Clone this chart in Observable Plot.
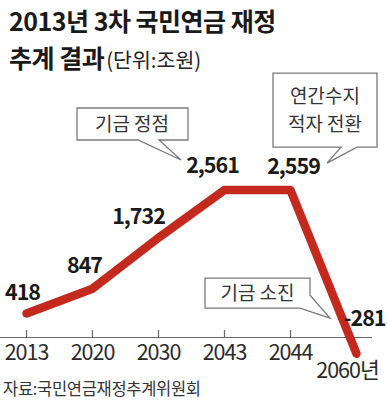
<!DOCTYPE html>
<html><head><meta charset="utf-8">
<script src="https://cdn.jsdelivr.net/npm/d3@7"></script>
<script src="https://cdn.jsdelivr.net/npm/@observablehq/plot@0.6"></script>
<style>
html,body{margin:0;padding:0;background:#fff;}
#wrap{position:relative;width:387px;height:402px;overflow:hidden;font-family:"Noto Sans CJK KR",sans-serif;}
#title{position:absolute;left:9px;top:2px;font-size:25px;font-weight:bold;line-height:36.5px;letter-spacing:-0.5px;color:#1a1a1a;white-space:nowrap;z-index:2;}
#title .unit{font-size:20.5px;font-weight:normal;letter-spacing:0;color:#222;margin-left:2px;}
#chart{position:absolute;left:0;top:72px;z-index:1;}
#source{position:absolute;left:3px;top:378px;font-size:16.5px;line-height:20px;letter-spacing:-0.3px;color:#333;white-space:nowrap;z-index:2;}
#chart svg text{letter-spacing:-1px;}
#chart svg .callout text{letter-spacing:0;}
</style></head>
<body><div id="wrap"><div id="title">2013년 3차 국민연금 재정<br>추계 결과<span class="unit">(단위:조원)</span></div><div id="chart"></div><div id="source">자료:국민연금재정추계위원회</div></div>
<script>
// ---- data ----
const years = ["2013", "2020", "2030", "2043", "2044", "2060"];
const values = [418, 847, 1732, 2561, 2559, -281];
const valueLabels = ["418", "847", "1,732", "2,561", "2,559", "-281"];
const tickYears = ["2013", "2020", "2030", "2043", "2044"];
const lastYearLabel = "2060년";
const calloutYears = ["2043", "2044", "2060"];
const calloutTexts = [["기금 정점"], ["연간수지", "적자 전환"], ["기금 소진"]];

const data = years.map((year, i) => ({year, value: values[i], label: valueLabels[i]}));

// ---- layout config (pixel offsets relative to anchor points) ----
const labelOffsets = [[-4, -20], [-8, -23], [-20, -21], [-12, -23.5], [3, -23.5], [8, -35]];
const calloutShapes = [
  {poly: [[-147,-81.5],[-36,-81.5],[-36,-49.5],[-65,-49.5],[-43,-29.5],[-86,-49.5],[-147,-49.5]], text: [-92, -65], gap: 0},
  {poly: [[-17,-116.5],[87,-116.5],[87,-42.5],[67,-42.5],[37,-26.5],[51,-42.5],[-17,-42.5]], text: [35, -79.5], gap: 28},
  {poly: [[-151,-75],[-46,-75],[-46,-58],[-26,-35],[-56,-45],[-151,-45]], text: [-98.5, -60], gap: 0}
];

const red = "#c3291c";
const plot = Plot.plot({
  width: 387,
  height: 325,
  marginLeft: 0,
  marginRight: 15,
  marginTop: 0,
  marginBottom: 0,
  style: {fontFamily: "'Noto Sans CJK KR', sans-serif", background: "transparent", overflow: "visible"},
  x: {type: "point", domain: years, range: [26, 356], padding: 0, axis: null},
  y: {domain: [0, d3.max(values)], range: [265, 117.5], axis: null},
  marks: [
    Plot.ruleY([0], {stroke: "#666", strokeWidth: 1.2}),
    Plot.vector(tickYears, {
      x: d => d, y: () => 0, length: 7, rotate: 0, anchor: "start",
      stroke: "#666", strokeWidth: 1.2,
      shape: {draw(ctx, l) { ctx.moveTo(0, 0); ctx.lineTo(0, -l); }}
    }),
    Plot.text(tickYears, {x: d => d, y: () => 0, text: d => d, dy: 16, fontSize: 21.5, fill: "#2a2a2a"}),
    Plot.text([data[data.length - 1]], {x: "year", y: "value", text: () => lastYearLabel, dx: -9, dy: 17, fontSize: 21.5, fill: "#2a2a2a"}),
    Plot.line(data, {x: "year", y: "value", stroke: red, strokeWidth: 8.5, strokeLinecap: "round", strokeLinejoin: "round"}),
    ...data.map((d, i) => Plot.text([d], {
      x: "year", y: "value", text: "label",
      dx: labelOffsets[i][0], dy: labelOffsets[i][1],
      fontSize: 21.5, fontWeight: "bold", fill: "#1a1a1a"
    }))
  ]
});
document.getElementById("chart").appendChild(plot);

// ---- callouts anchored to data points through the plot's scales ----
const sx = plot.scale("x"), sy = plot.scale("y");
const g = d3.select(plot).append("g").attr("class", "callout");
calloutYears.forEach((yr, k) => {
  const d = data.find(e => e.year === yr);
  const ax = sx.apply(d.year), ay = sy.apply(d.value);
  const shp = calloutShapes[k];
  g.append("path")
    .attr("d", "M" + shp.poly.map(p => [ax + p[0], ay + p[1]].join(",")).join("L") + "Z")
    .attr("fill", "#fff").attr("stroke", "#7a7a7a").attr("stroke-width", 1.3)
    .attr("stroke-linejoin", "miter");
  const lines = calloutTexts[k];
  lines.forEach((t, j) => {
    g.append("text")
      .attr("x", ax + shp.text[0])
      .attr("y", ay + shp.text[1] + (j - (lines.length - 1) / 2) * shp.gap)
      .attr("dy", "0.36em")
      .attr("text-anchor", "middle")
      .attr("font-size", 19)
      .attr("fill", "#333")
      .text(t);
  });
});
</script>
</body></html>
